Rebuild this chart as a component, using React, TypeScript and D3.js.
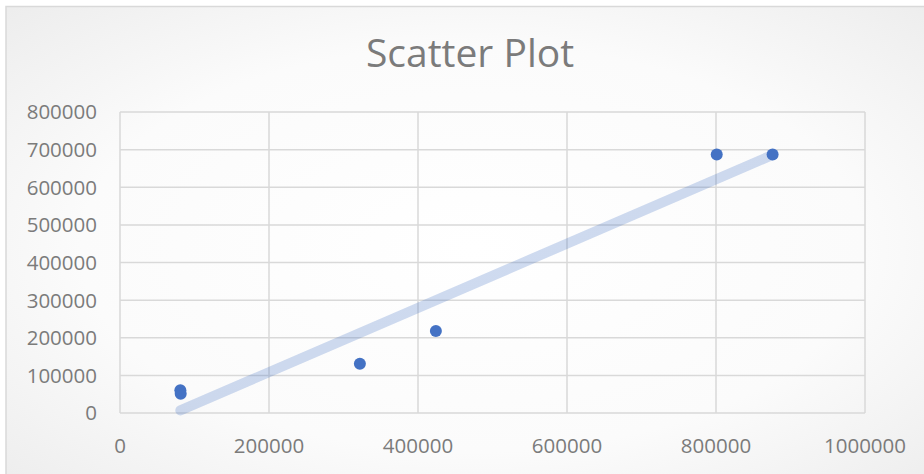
import React from "react";
import * as d3 from "d3";

const xValues = [81000, 81500, 322000, 424000, 801000, 876000];
const yValues = [60500, 51000, 131000, 218000, 687000, 687000];
const xTicks = [0, 200000, 400000, 600000, 800000, 1000000];
const yTicks = [0, 100000, 200000, 300000, 400000, 500000, 600000, 700000, 800000];
const title = "Scatter Plot";

const W = 924;
const H = 474;
const M = { left: 120, right: 865, top: 112, bottom: 413 };

export default function App() {
  const x = d3.scaleLinear().domain([0, 1000000]).range([M.left, M.right]);
  const y = d3.scaleLinear().domain([0, 800000]).range([M.bottom, M.top]);

  const mx = d3.mean(xValues) as number;
  const my = d3.mean(yValues) as number;
  let sxy = 0, sxx = 0;
  xValues.forEach((v, i) => {
    sxy += (v - mx) * (yValues[i] - my);
    sxx += (v - mx) * (v - mx);
  });
  const slope = sxy / sxx;
  const icpt = my - slope * mx;
  const x0 = d3.min(xValues) as number;
  const x1 = d3.max(xValues) as number;
  const trend = d3.line<number>().x((d) => x(d)).y((d) => y(slope * d + icpt))([x0, x1]) as string;

  const font = "'Open Sans', sans-serif";
  const grid = "#d9d9d9";
  const txt = "#7b7b7b";

  return (
    <svg width={W} height={H} style={{ position: "absolute", left: 0, top: 0 }}>
      <defs>
        <radialGradient id="bg" cx="50%" cy="50%" r="70%">
          <stop offset="0%" stopColor="#ffffff" />
          <stop offset="60%" stopColor="#fbfbfb" />
          <stop offset="100%" stopColor="#ededed" />
        </radialGradient>
      </defs>
      <rect x={0} y={0} width={W} height={H} fill="#ffffff" />
      <rect x={6} y={6.5} width={W + 10} height={H + 10} fill="url(#bg)" stroke={grid} strokeWidth={1.5} />
      <text x={470} y={67} textAnchor="middle" fontFamily={font} fontSize={39} fill={txt}>
        {title}
      </text>
      {yTicks.map((t) => (
        <line key={"gy" + t} x1={M.left} x2={M.right} y1={y(t)} y2={y(t)} stroke={grid} strokeWidth={1.5} />
      ))}
      {xTicks.map((t) => (
        <line key={"gx" + t} x1={x(t)} x2={x(t)} y1={M.top} y2={M.bottom} stroke={grid} strokeWidth={1.5} />
      ))}
      {yTicks.map((t) => (
        <text key={"ly" + t} x={97} y={y(t)} dy="0.36em" textAnchor="end" fontFamily={font} fontSize={20.5} fill={txt}>
          {t}
        </text>
      ))}
      {xTicks.map((t) => (
        <text key={"lx" + t} x={x(t)} y={453} textAnchor="middle" fontFamily={font} fontSize={20.5} fill={txt}>
          {t}
        </text>
      ))}
      <path d={trend} stroke="#4472c4" strokeOpacity={0.26} strokeWidth={10} strokeLinecap="round" fill="none" />
      {xValues.map((v, i) => (
        <circle key={"p" + i} cx={x(v)} cy={y(yValues[i])} r={6} fill="#4472c4" />
      ))}
    </svg>
  );
}
